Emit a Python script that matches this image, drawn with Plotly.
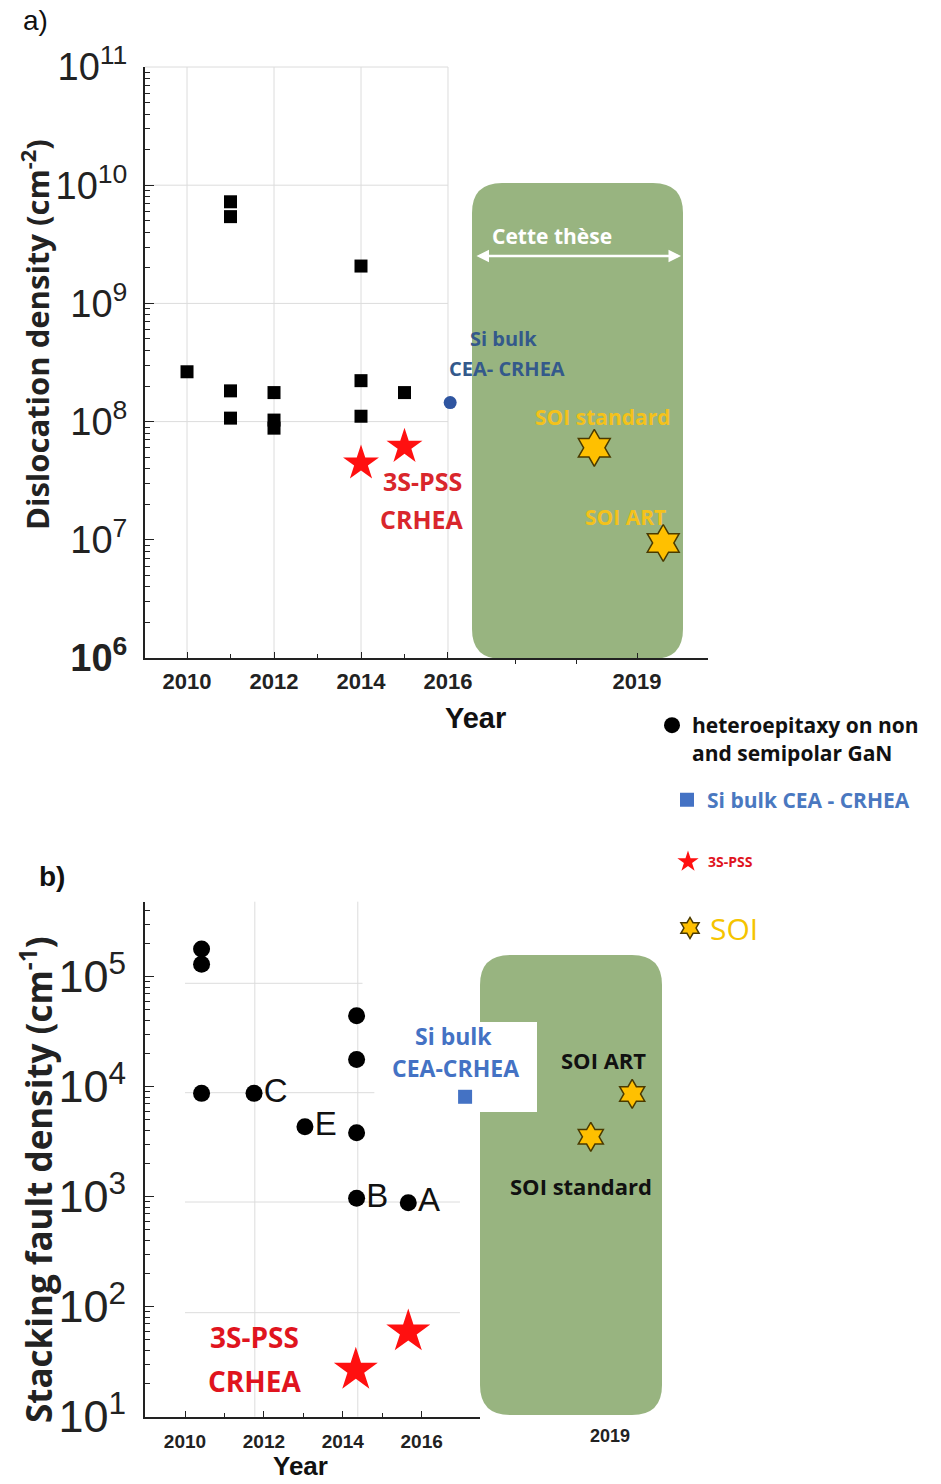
import plotly.graph_objects as go

W, H = 941, 1484
def X(px): return px / W
def Y(py): return 1 - py / H

# ---------------- data: panel a (dislocation density, cm^-2) ----------------
a_het_year = [2010, 2011, 2011, 2011, 2011, 2012, 2012, 2012, 2014, 2014, 2014, 2015]
a_het_val = [2.64e8, 7.24e9, 5.42e9, 1.82e8, 1.07e8, 1.76e8, 1.03e8, 8.8e7, 2.07e9, 2.22e8, 1.11e8, 1.76e8]
a_pss_year = [2014, 2015]
a_pss_val = [4.44e7, 6.14e7]
a_sibulk_year = [2016.05]
a_sibulk_val = [1.45e8]
a_soi_year = [2018.30, 2019.43]
a_soi_val = [6.0e7, 9.4e6]

# ---------------- data: panel b (stacking fault density, cm^-1) ----------------
b_het_year = [2010.42, 2010.42, 2010.42, 2011.75, 2013.04, 2014.35, 2014.35, 2014.35, 2014.35, 2015.66]
b_het_val = [1.79e5, 1.30e5, 8.7e3, 8.7e3, 4.33e3, 4.42e4, 1.77e4, 3.82e3, 966, 881]
b_het_label = ["", "", "", "C", "E", "", "", "", "B", "A"]
b_pss_year = [2014.33, 2015.66]
b_pss_val = [26.6, 59.3]
b_sibulk_year = [2017.1]
b_sibulk_val = [8.1e3]
b_soi_year = [2019.37, 2018.68]
b_soi_val = [8.6e3, 3.5e3]

a_xticks = [2010, 2012, 2014, 2016]
b_xticks = [2010, 2012, 2014, 2016]
a_yticks = [1e6, 1e7, 1e8, 1e9, 1e10, 1e11]
a_yticktext = ["<b>10<sup>6</sup></b>", "10<sup>7</sup>", "10<sup>8</sup>", "10<sup>9</sup>", "10<sup>10</sup>", "10<sup>11</sup>"]
b_yticks = [1e1, 1e2, 1e3, 1e4, 1e5]
b_yticktext = ["10<sup>1</sup>", "10<sup>2</sup>", "10<sup>3</sup>", "10<sup>4</sup>", "10<sup>5</sup>"]

RED = "#FF1010"
GOLD = "#FFC000"
GREEN = "#98B480"
BODY = "Open Sans"

fig = go.Figure()

# panel a traces
fig.add_trace(go.Scatter(x=a_het_year, y=a_het_val, mode="markers", xaxis="x", yaxis="y",
                         marker=dict(symbol="square", size=13, color="black"), showlegend=False))
fig.add_trace(go.Scatter(x=a_pss_year, y=a_pss_val, mode="markers", xaxis="x", yaxis="y",
                         marker=dict(symbol="star", size=27, color=RED), showlegend=False))
fig.add_trace(go.Scatter(x=a_sibulk_year, y=a_sibulk_val, mode="markers", xaxis="x", yaxis="y",
                         marker=dict(symbol="circle", size=13, color="#2F55A0"), showlegend=False))
fig.add_trace(go.Scatter(x=a_soi_year, y=a_soi_val, mode="markers", xaxis="x2", yaxis="y",
                         marker=dict(symbol="hexagram", size=28, color=GOLD, line=dict(color="#4A3A00", width=1.5)),
                         showlegend=False))

# panel b traces (each carries one legend entry)
fig.add_trace(go.Scatter(x=b_het_year, y=b_het_val, mode="markers", xaxis="x3", yaxis="y3",
                         marker=dict(symbol="circle", size=17, color="black"),
                         name="heteroepitaxy on non<br>and semipolar GaN", legend="legend"))
lbl_x = [x for x, l in zip(b_het_year, b_het_label) if l]
lbl_y = [y for y, l in zip(b_het_val, b_het_label) if l]
lbl_t = [l for l in b_het_label if l]
fig.add_trace(go.Scatter(x=lbl_x, y=lbl_y, mode="markers+text", xaxis="x3", yaxis="y3",
                         text=lbl_t, textposition="middle right",
                         textfont=dict(family="Liberation Sans", size=33, color="#111"),
                         marker=dict(size=14, color="rgba(0,0,0,0)"), showlegend=False, hoverinfo="skip"))
fig.add_trace(go.Scatter(x=b_sibulk_year, y=b_sibulk_val, mode="markers", xaxis="x3", yaxis="y3",
                         marker=dict(symbol="square", size=14, color="#4472C4"),
                         name="Si bulk CEA - CRHEA", legend="legend2"))
fig.add_trace(go.Scatter(x=b_pss_year, y=b_pss_val, mode="markers", xaxis="x3", yaxis="y3",
                         marker=dict(symbol="star", size=33, color=RED),
                         name="3S-PSS", legend="legend3"))
fig.add_trace(go.Scatter(x=b_soi_year, y=b_soi_val, mode="markers", xaxis="x4", yaxis="y3",
                         marker=dict(symbol="hexagram", size=22, color=GOLD, line=dict(color="#4A3A00", width=1.5)),
                         name="SOI", legend="legend4"))

# ---------------- shapes ----------------
def rounded_box(l, t, r, b, rad=30):
    rx, ry = rad / W, rad / H
    L, R, T, B = X(l), X(r), Y(t), Y(b)
    return (f"M {L+rx},{T} L {R-rx},{T} Q {R},{T} {R},{T-ry} L {R},{B+ry} Q {R},{B} {R-rx},{B} "
            f"L {L+rx},{B} Q {L},{B} {L},{B+ry} L {L},{T-ry} Q {L},{T} {L+rx},{T} Z")

GRID = "#DCDCDC"
shapes = []
for yr in a_xticks:
    shapes.append(dict(type="line", xref="x", yref="y domain", x0=yr, x1=yr, y0=0, y1=1,
                       line=dict(color=GRID, width=1), layer="below"))
for k in [8, 9, 10, 11]:
    f = (k - 6) / 5
    shapes.append(dict(type="line", xref="x", yref="y domain", x0=2009.034, x1=2016, y0=f, y1=f,
                       line=dict(color=GRID, width=1), layer="below"))
def gb(py): return (1416.7 - py) / 515.0
for yr in [2011.77, 2014.38]:
    shapes.append(dict(type="line", xref="x3", yref="y3 domain", x0=yr, x1=yr, y0=0, y1=1,
                       line=dict(color=GRID, width=1), layer="below"))
for py, xe in [(983.3, 2014.5), (1092.7, 2014.8), (1202, 2016.97), (1312.7, 2016.97)]:
    shapes.append(dict(type="line", xref="x3", yref="y3 domain", x0=2010, x1=xe, y0=gb(py), y1=gb(py),
                       line=dict(color=GRID, width=1), layer="below"))
shapes.append(dict(type="path", xref="paper", yref="paper", path=rounded_box(472, 183, 683, 659),
                   fillcolor=GREEN, line=dict(width=0), layer="below"))
shapes.append(dict(type="path", xref="paper", yref="paper", path=rounded_box(480, 955, 662, 1415),
                   fillcolor=GREEN, line=dict(width=0), layer="below"))
shapes.append(dict(type="rect", xref="paper", yref="paper", x0=X(420), x1=X(537), y0=Y(1112), y1=Y(1022),
                   fillcolor="white", line=dict(width=0), layer="below"))

# ---------------- annotations ----------------
def ann(text, px, py, size, color="#111", family=BODY, bold=True, **kw):
    t = f"<b>{text}</b>" if bold else text
    return dict(text=t, x=X(px), y=Y(py), xref="paper", yref="paper", showarrow=False,
                font=dict(family=family, size=size, color=color), xanchor="center", yanchor="middle", **kw)

anns = [
    ann("a)", 35, 20, 28, family="Liberation Sans", bold=False),
    ann("Dislocation density (cm<sup>-2</sup>)", 35, 335, 31, color="#222", textangle=-90),
    ann("Year", 475, 718, 29, family="Liberation Sans"),
    ann("Cette thèse", 552, 236, 21, color="white"),
    ann("Si bulk", 504, 338, 20, color="#34598B"),
    ann("CEA- CRHEA", 507, 368, 20, color="#34598B"),
    ann("SOI standard", 603, 417, 21, color="#F4C21B"),
    ann("SOI ART", 625, 517, 21, color="#F4C21B"),
    ann("3S-PSS", 422, 481, 25, color="#D9262C"),
    ann("CRHEA", 422, 519, 25, color="#D9262C"),
    ann("b)", 52, 876, 28, family="Liberation Sans"),
    ann("Stacking fault density (cm<sup>-1</sup>)", 36, 1180, 35, color="#222", textangle=-90),
    ann("Year", 300, 1466, 26, family="Liberation Sans"),
    ann("Si bulk", 453, 1036, 23, color="#4472C4"),
    ann("CEA-CRHEA", 455, 1068, 23, color="#4472C4"),
    ann("SOI ART", 603, 1060, 22),
    ann("SOI standard", 581, 1186, 22),
    ann("3S-PSS", 255, 1337, 28, color="#E0141E"),
    ann("CRHEA", 255, 1381, 28, color="#E0141E"),
    dict(text="", x=X(681), y=Y(256), xref="paper", yref="paper", showarrow=True,
         ax=-206, ay=0, arrowside="end+start", arrowhead=2, arrowsize=1, arrowwidth=2.5, arrowcolor="white"),
]

def minor_log(lo, hi):
    return [m * 10 ** k for k in range(lo, hi) for m in range(2, 10)]

axis_common = dict(showline=True, linecolor="#222", linewidth=2, showgrid=False, zeroline=False,
                   mirror=False, automargin=False)

def leg(px, py, size, color, weight="bold", yanchor="middle"):
    return dict(x=X(px), y=Y(py), xanchor="left", yanchor=yanchor, bgcolor="rgba(0,0,0,0)",
                font=dict(family=BODY, size=size, color=color, weight=weight),
                itemsizing="trace", valign="top", itemwidth=30)

fig.update_layout(
    width=W, height=H, margin=dict(l=0, r=0, t=0, b=0, autoexpand=False),
    paper_bgcolor="white", plot_bgcolor="rgba(0,0,0,0)",
    shapes=shapes, annotations=anns,
    xaxis=dict(domain=[X(145), X(472)], range=[2009.034, 2016.552], anchor="y", tickvals=a_xticks,
               ticks="inside", ticklen=6, tickcolor="#222", ticklabelstandoff=3,
               minor=dict(tickvals=[2011, 2013, 2015], ticks="inside", ticklen=4, tickcolor="#222"),
               tickfont=dict(family="Liberation Sans", size=22, color="#222", weight="bold"), **axis_common),
    xaxis2=dict(domain=[X(472), X(708)], range=[2016.295, 2020.164], anchor="y", tickvals=[2019],
                ticks="inside", ticklen=5, tickcolor="#222", ticklabelstandoff=3,
                minor=dict(tickvals=[2017, 2018], ticks="outside", ticklen=4, tickcolor="#222"),
                tickfont=dict(family="Liberation Sans", size=22, color="#222", weight="bold"), **axis_common),
    yaxis=dict(domain=[Y(658), Y(67)], type="log", range=[6, 11], anchor="x", tickvals=a_yticks,
               ticktext=a_yticktext, ticks="inside", ticklen=9, tickcolor="#222", ticklabelstandoff=8,
               minor=dict(tickvals=minor_log(6, 11), ticks="inside", ticklen=5, tickcolor="#222"),
               tickfont=dict(family="Liberation Sans", size=38, color="#222"), **axis_common),
    xaxis3=dict(domain=[X(145), X(480)], range=[2008.986, 2017.478], anchor="y3", tickvals=b_xticks,
                ticks="inside", ticklen=6, tickcolor="#222", ticklabelstandoff=6,
                minor=dict(tickvals=[2011, 2013, 2015], ticks="inside", ticklen=4, tickcolor="#222"),
                tickfont=dict(family="Liberation Sans", size=19, color="#222", weight="bold"), **axis_common),
    xaxis4=dict(domain=[X(480), X(662)], range=[2016.833, 2019.867], anchor="y3", tickvals=[2019],
                ticks="", showline=False, showgrid=False, zeroline=False, ticklabelstandoff=6, automargin=False,
                tickfont=dict(family="Liberation Sans", size=18, color="#222", weight="bold")),
    yaxis3=dict(domain=[Y(1416.7), Y(901.7)], type="log", range=[1, 5.682], anchor="x3", tickvals=b_yticks,
                ticktext=b_yticktext, ticks="inside", ticklen=9, tickcolor="#222", ticklabelstandoff=8,
                minor=dict(tickvals=minor_log(1, 6), ticks="inside", ticklen=5, tickcolor="#222"),
                tickfont=dict(family="Liberation Sans", size=45, color="#222"), **axis_common),
    legend=leg(652, 739, 21, "#111"),
    legend2=leg(667, 800, 21, "#4A78C0"),
    legend3=leg(668, 862, 14, "#E0141E"),
    legend4=leg(670, 928, 30, "#F5C400", weight="normal"),
    showlegend=True,
)

fig.write_html("out.html", config={"displayModeBar": False},
               post_script="document.body.style.margin='0px';")
